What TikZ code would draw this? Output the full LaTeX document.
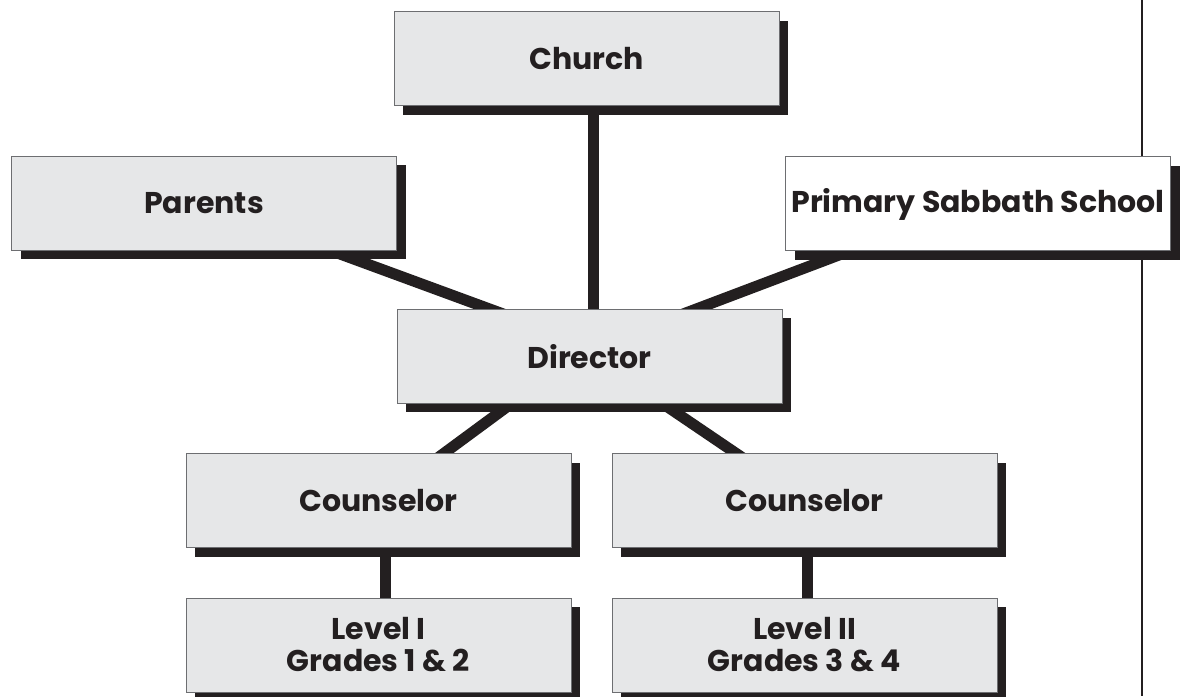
\documentclass[tikz,border=0pt]{standalone}
\usepackage{fontspec}
\setmainfont{Poppins}[BoldFont={Poppins Bold}]
\usetikzlibrary{shadows,backgrounds}
\definecolor{ink}{HTML}{231F20}
\definecolor{boxfill}{HTML}{E6E7E8}
\definecolor{edge}{HTML}{6D6E71}
\tikzset{
  orgbox/.style={rectangle, draw=edge, line width=1pt, fill=boxfill,
    minimum width=385pt, minimum height=94pt, inner sep=0pt, outer sep=0pt,
    text=ink, align=center,
    font=\fontsize{30}{32}\selectfont\bfseries,
    drop shadow={shadow xshift=9pt, shadow yshift=-9pt, fill=ink, opacity=1, draw=none}},
  whitebox/.style={orgbox, fill=white},
  link/.style={draw=ink, line width=11pt, shorten <=-14pt, shorten >=-14pt},
  vlink/.style={draw=ink, line width=11pt},
  rule/.style={draw=ink, line width=1.2pt}
}
\begin{document}
\begin{tikzpicture}[x=1pt,y=1pt]
\useasboundingbox (0,0) rectangle (1185,696);
\coordinate (rtop) at (1142,696);
\coordinate (rbot) at (1142,0);
\draw[rule] (rtop) -- (rbot);

\node[orgbox] (ch) at (586.5,637) {Church};
\node[orgbox] (par) at (204,492.5) {Parents};
\node[whitebox] (pss) at (978,492) {Primary Sabbath School};
\node[orgbox] (dir) at (589.5,339.5) {Director};
\node[orgbox] (cl) at (378.5,195) {Counselor};
\node[orgbox] (cr) at (804.5,195) {Counselor};
\node[orgbox] (l1) at (378.5,51) {Level I\\Grades 1 \& 2};
\node[orgbox] (l2) at (804.5,51) {Level II\\Grades 3 \& 4};

\begin{pgfonlayer}{background}
\draw[vlink] ([xshift=6.5pt]ch.center) -- ([xshift=3.5pt]dir.center);
\draw[link] ([xshift=126.5pt]par.south) -- ([xshift=-98.5pt]dir.north);
\draw[link] ([xshift=-128.4pt]pss.south) -- ([xshift=105.5pt]dir.north);
\draw[link] ([xshift=-78pt]dir.south) -- ([xshift=64.5pt]cl.north);
\draw[link] ([xshift=73pt]dir.south) -- ([xshift=-67.5pt]cr.north);
\draw[vlink] ([xshift=7pt]cl.center) -- ([xshift=7pt]l1.center);
\draw[vlink] ([xshift=3pt]cr.center) -- ([xshift=3pt]l2.center);
\end{pgfonlayer}
\end{tikzpicture}
\end{document}
